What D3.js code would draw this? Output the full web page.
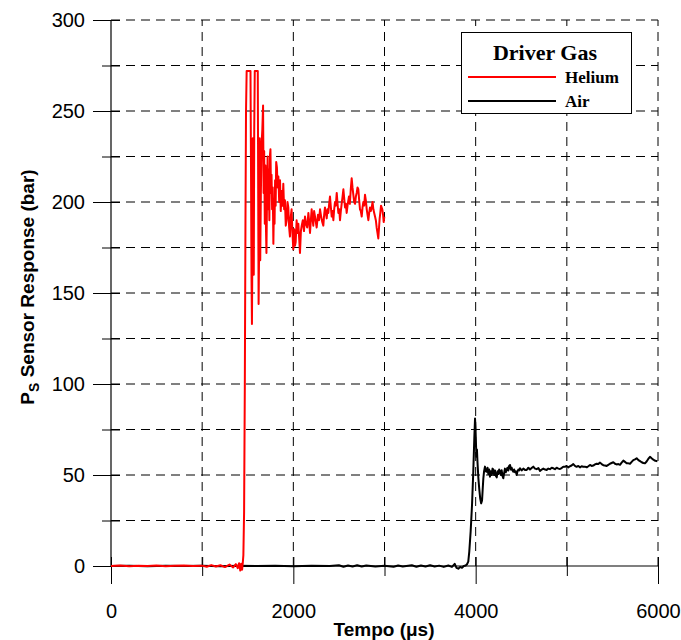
<!DOCTYPE html>
<html>
<head>
<meta charset="utf-8">
<script src="https://cdn.jsdelivr.net/npm/d3@7"></script>
<style>
  body { margin: 0; background: #fff; }
  svg { display: block; }
</style>
</head>
<body>
<svg id="chart" width="681" height="640"></svg>
<script>
// ---------- data ----------
const xMajorTicks = [0, 2000, 4000, 6000];
const xMinorTicks = [1000, 3000, 5000];
const yMajorTicks = [0, 50, 100, 150, 200, 250, 300];
const yMinorTicks = [25, 75, 125, 175, 225, 275];
const xGridValues = [1000, 2000, 3000, 4000, 5000, 6000];
const yGridValues = [25, 50, 75, 100, 125, 150, 175, 200, 225, 250, 275, 300];
const seriesNames = ["Helium", "Air"];
const seriesColors = ["#ff0000", "#000000"];

const heliumData = [
[0,0],[100,0.3],[200,-0.2],[300,0.2],[400,0],[500,0.3],[600,-0.2],[700,0.2],[800,0.3],[900,0],[1000,0.2],[1050,-0.4],[1100,0.5],[1150,-0.3],[1200,0.4],[1250,-0.6],[1300,0.8],[1340,-0.8],[1370,1],[1390,-1.2],[1405,1.5],[1418,-2.5],[1428,1.2],[1438,-2],[1446,2],[1452,6],[1460,30],[1468,100],[1475,190],[1481,250],[1488,272],[1530,272],[1536,215],[1541,160],[1546,133],[1551,175],[1556,235],[1561,200],[1566,160],[1571,240],[1577,272],[1610,272],[1614,215],[1619,144],[1625,175],[1631,235],[1637,168],[1644,205],[1652,232],[1660,240],[1668,253],[1674,205],[1680,228],[1687,188],[1694,220],[1700,185],[1705,172],[1711,200],[1718,225],[1724,196],[1730,218],[1737,190],[1744,226],[1749,229],[1755,205],[1761,215],[1767,196],[1774,208],[1781,177],[1788,200],[1794,188],[1800,212],[1806,198],[1812,222],[1820,219],[1828,208],[1836,214],[1845,200],[1854,212],[1862,195],[1872,206],[1881,198],[1890,210],[1899,196],[1908,201],[1917,187],[1927,190],[1936,200],[1945,197],[1954,186],[1963,181],[1972,192],[1981,196],[1990,183],[2000,174],[2009,185],[2018,176],[2026,178],[2036,190],[2046,183],[2055,188],[2064,180],[2073,172],[2083,184],[2092,187],[2104,190],[2117,184],[2128,192],[2139,188],[2152,186],[2165,194],[2174,189],[2183,183],[2192,190],[2201,196],[2210,191],[2219,187],[2228,195],[2238,192],[2247,189],[2256,186],[2270,193],[2282,190],[2293,196],[2305,192],[2317,189],[2329,187],[2338,193],[2347,197],[2356,194],[2366,191],[2375,196],[2384,194],[2393,199],[2402,203],[2412,197],[2421,192],[2430,195],[2439,190],[2448,196],[2457,200],[2466,198],[2476,205],[2485,199],[2494,194],[2503,196],[2512,190],[2521,195],[2530,199],[2540,203],[2549,207],[2558,202],[2567,197],[2576,199],[2585,194],[2597,199],[2610,203],[2620,199],[2630,207],[2640,213],[2649,208],[2658,204],[2667,200],[2677,199],[2686,203],[2695,205],[2704,208],[2713,207],[2722,201],[2731,196],[2740,195],[2750,192],[2759,197],[2768,200],[2777,198],[2786,204],[2795,201],[2805,196],[2814,193],[2823,190],[2832,194],[2841,197],[2850,195],[2860,197],[2869,200],[2878,196],[2887,194],[2896,192],[2905,190],[2914,186],[2923,183],[2932,180],[2940,186],[2947,191],[2954,194],[2962,198],[2969,197],[2976,196],[2984,193],[2991,189],[2998,192]
];

const airData = [
[0,0],[200,0.1],[400,-0.1],[600,0.1],[800,0],[1000,0.1],[1200,-0.1],[1400,0.1],[1600,0],[1800,0.1],[2000,-0.1],[2200,0.1],[2400,0],[2500,0.4],[2550,-0.4],[2600,0.3],[2650,-0.3],[2700,0.4],[2750,-0.3],[2800,0.3],[2900,-0.3],[3000,0.2],[3100,-0.4],[3150,0.3],[3200,-0.3],[3300,0.4],[3350,-0.4],[3400,0.3],[3450,-0.3],[3500,0.4],[3550,-0.3],[3600,0.2],[3650,-0.5],[3700,0.3],[3740,-0.5],[3770,1.2],[3790,-1],[3810,-1.5],[3830,-0.5],[3850,-1],[3870,0],[3890,0.3],[3905,1],[3919,2.4],[3930,7.9],[3945,19],[3960,33.5],[3974,52],[3985,70],[3993,81],[3998,76],[4003,68],[4008,60],[4014,64],[4020,57],[4030,48],[4040,42],[4050,37],[4060,34.4],[4070,36],[4078,43],[4084,48],[4092,52],[4102,54.6],[4111,52],[4121,51.8],[4130,54],[4139,50.5],[4148,53],[4157,49.1],[4166,52],[4176,50],[4185,53.5],[4194,52.8],[4203,50],[4212,52.5],[4222,49.5],[4231,48.7],[4240,52],[4249,50.5],[4258,53],[4267,51.8],[4276,50],[4285,52.6],[4294,49.5],[4303,48.2],[4312,51],[4321,53.5],[4330,51.5],[4340,52.8],[4349,54],[4358,52.5],[4367,55],[4377,55.5],[4386,53],[4395,54],[4404,52.5],[4413,51.8],[4422,53],[4431,51.5],[4440,52],[4450,50],[4459,52],[4468,53],[4477,52.5],[4486,53.7],[4505,52.5],[4523,53.5],[4541,52.8],[4560,52.8],[4578,54],[4596,53],[4614,53.8],[4632,54.6],[4651,53.5],[4669,53.2],[4688,53.8],[4706,52.2],[4724,53],[4742,53.5],[4761,53],[4779,52.8],[4797,53.5],[4815,53.2],[4834,54],[4852,53.7],[4870,53.2],[4888,54],[4907,53.5],[4925,53.3],[4943,53.8],[4961,54.6],[4979,54.5],[4997,55],[5016,54.2],[5034,54.8],[5052,55.2],[5071,56],[5089,55],[5107,54.5],[5126,55],[5144,54.2],[5162,54.8],[5180,54.5],[5199,54.6],[5218,54.2],[5236,54.8],[5254,55.5],[5272,55],[5290,55.2],[5309,55.8],[5327,56.2],[5345,56],[5364,56.8],[5382,56],[5400,55.4],[5418,55.2],[5437,55],[5455,55.6],[5473,56.2],[5491,56.6],[5510,57],[5528,56.2],[5546,55.8],[5565,56],[5583,55.6],[5601,56.8],[5620,57.9],[5638,57.2],[5656,56.5],[5675,56.4],[5693,56.2],[5711,57.2],[5729,58.2],[5748,58.6],[5766,59.2],[5785,58.2],[5803,57.6],[5821,57],[5839,56.6],[5857,56.4],[5875,57.4],[5893,58.8],[5912,60],[5930,59.2],[5949,58.4],[5970,57.8],[5993,57.6]
];

// ---------- layout ----------
const svg = d3.select("#chart");
const x = d3.scaleLinear().domain([0, 6000]).range([111, 658]);
const y = d3.scaleLinear().domain([0, 300]).range([566, 20]);

// grid
const grid = svg.append("g").attr("fill", "none").attr("stroke", "#000")
  .attr("stroke-width", 1).attr("stroke-dasharray", "9,6");
grid.selectAll(".vg").data(xGridValues).join("line")
  .attr("x1", d => x(d)).attr("x2", d => x(d))
  .attr("y1", y(0)).attr("y2", y(300));
grid.selectAll(".hg").data(yGridValues).join("line")
  .attr("x1", x(0)).attr("x2", x(6000))
  .attr("y1", d => y(d)).attr("y2", d => y(d));

// axes
function styleAxis(g) {
  g.select(".domain").remove();
  g.selectAll("text").attr("font-family", "Liberation Sans, Arial, sans-serif")
    .attr("font-size", 20).attr("fill", "#000");
}
const xAxisG = svg.append("g").attr("transform", `translate(0,${y(0)})`)
  .call(d3.axisBottom(x).tickValues(xMajorTicks).tickSize(18).tickPadding(20).tickFormat(d3.format("d")));
styleAxis(xAxisG);
xAxisG.selectAll(".tick line").attr("y1", -9).attr("y2", 18).attr("stroke", "#000");

const xMinorG = svg.append("g").attr("transform", `translate(0,${y(0)})`)
  .call(d3.axisBottom(x).tickValues(xMinorTicks).tickSize(10).tickFormat(""));
xMinorG.select(".domain").remove();
xMinorG.selectAll(".tick line").attr("y1", -9).attr("y2", 10).attr("stroke", "#000");

const yAxisG = svg.append("g").attr("transform", `translate(${x(0)},0)`)
  .call(d3.axisLeft(y).tickValues(yMajorTicks).tickSize(18).tickPadding(8).tickFormat(d3.format("d")));
styleAxis(yAxisG);
yAxisG.selectAll(".tick line").attr("x1", 9).attr("x2", -18).attr("stroke", "#000");

const yMinorG = svg.append("g").attr("transform", `translate(${x(0)},0)`)
  .call(d3.axisLeft(y).tickValues(yMinorTicks).tickSize(9).tickFormat(""));
yMinorG.select(".domain").remove();
yMinorG.selectAll(".tick line").attr("x1", 9).attr("x2", -9).attr("stroke", "#000");

// axis lines
svg.append("line").attr("x1", x(0)).attr("x2", x(0)).attr("y1", y(0)).attr("y2", y(300))
  .attr("stroke", "#000").attr("stroke-width", 1.2);
svg.append("line").attr("x1", x(0)).attr("x2", x(6000)).attr("y1", y(0)).attr("y2", y(0))
  .attr("stroke", "#000").attr("stroke-width", 1.2);

// series
const line = d3.line().x(d => x(d[0])).y(d => y(d[1]));
svg.append("path").datum(airData).attr("d", line)
  .attr("fill", "none").attr("stroke", seriesColors[1]).attr("stroke-width", 2).attr("stroke-linejoin", "round");
svg.append("path").datum(heliumData).attr("d", line)
  .attr("fill", "none").attr("stroke", seriesColors[0]).attr("stroke-width", 2).attr("stroke-linejoin", "round");

// axis titles
svg.append("text").attr("x", 384).attr("y", 636).attr("text-anchor", "middle")
  .attr("font-family", "Liberation Sans, Arial, sans-serif").attr("font-weight", "bold")
  .attr("font-size", 19).text("Tempo (\u03BCs)");

const yt = svg.append("text").attr("transform", "translate(34,287) rotate(-90)")
  .attr("text-anchor", "middle")
  .attr("font-family", "Liberation Sans, Arial, sans-serif").attr("font-weight", "bold")
  .attr("font-size", 19);
yt.append("tspan").text("P");
yt.append("tspan").attr("font-size", 14).attr("dy", 5).text("S");
yt.append("tspan").attr("dy", -5).text(" Sensor Response (bar)");

// legend
const lg = svg.append("g");
lg.append("rect").attr("x", 461.5).attr("y", 32.5).attr("width", 170).attr("height", 81)
  .attr("fill", "#fff").attr("stroke", "#000").attr("stroke-width", 1);
lg.append("text").attr("x", 545).attr("y", 60).attr("text-anchor", "middle")
  .attr("font-family", "Liberation Serif, Times New Roman, serif").attr("font-weight", "bold")
  .attr("font-size", 22).text("Driver Gas");
const legY = [77, 101];
seriesNames.forEach((name, i) => {
  lg.append("line").attr("x1", 468).attr("x2", 556).attr("y1", legY[i]).attr("y2", legY[i])
    .attr("stroke", seriesColors[i]).attr("stroke-width", 2);
  lg.append("text").attr("x", 565).attr("y", legY[i] + 5.5)
    .attr("font-family", "Liberation Serif, Times New Roman, serif").attr("font-weight", "bold")
    .attr("font-size", 17).text(name);
});
</script>
</body>
</html>
